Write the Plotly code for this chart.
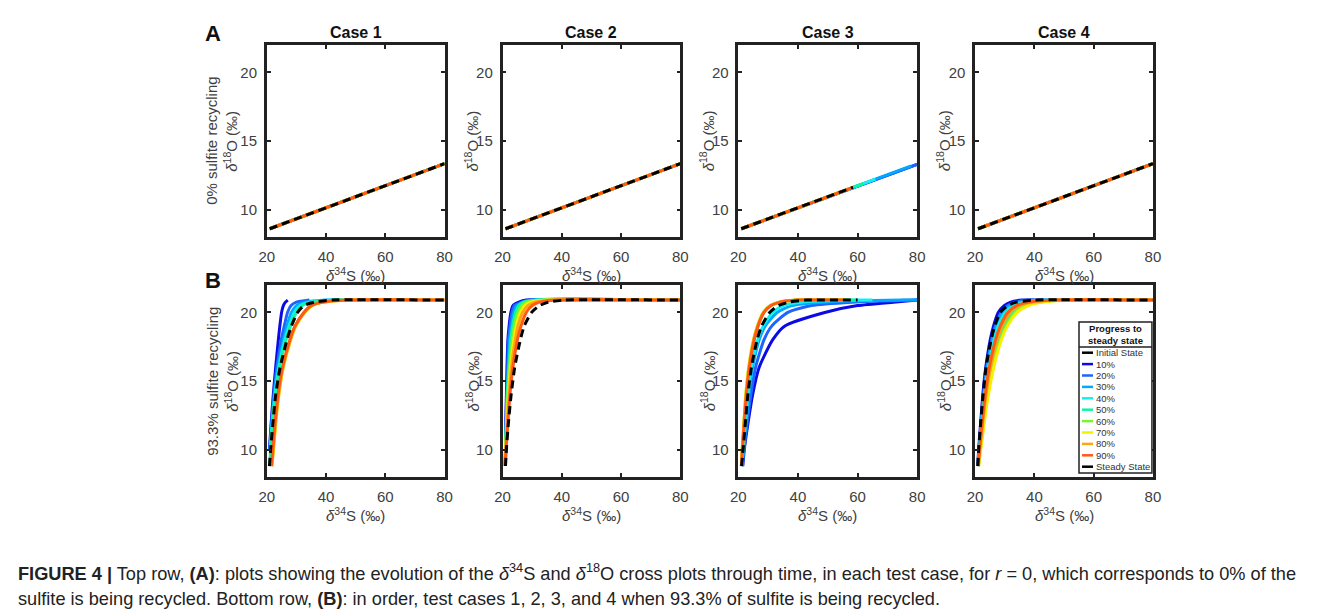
import plotly.graph_objects as go

# measured page placement: the figure lands ~15px in and is drawn ~1.1% narrower,
# and 8px down; positions below are written in target-picture pixels
W, H = 1342, 602
X_OFF, X_SCALE, Y_OFF = 15, 0.989, 8

# --- data -------------------------------------------------------------------
CASES = ["Case 1", "Case 2", "Case 3", "Case 4"]
ROW_LABELS = ["0% sulfite recycling", "93.3% sulfite recycling"]
SERIES = ["10%", "20%", "30%", "40%", "50%", "60%", "70%", "80%", "90%", "Steady State"]
COLORS = ["#0a0ae6", "#1e64ff", "#00a8ff", "#10f0f0", "#10f5a0",
          "#78f532", "#f5f000", "#ffa514", "#ff5a14", "#000000"]
LEGEND_NAMES = ["Initial State"] + SERIES

# top row: straight runs from a common start to a per-series end point
TOP_X0, TOP_Y0 = 21.0, 8.6
TOP_END_X = [
    [80] * 10,
    [80] * 10,
    [80, 80, 78, 66, 62, 58.5, 58.5, 58.5, 58.5, 58.5],
    [80] * 10,
]
TOP_END_Y = [
    [13.35] * 10,
    [13.35] * 10,
    [13.3, 13.3, 13.19, 12.22, 11.9, 11.62, 11.62, 11.62, 11.62, 11.62],
    [13.35] * 10,
]

# bottom row: delta34S reached by each series at these delta18O levels
Y_GRID = [8.8, 10, 12, 14, 16, 18, 19, 20, 20.5, 20.75, 20.9]
B_CASE1 = [
    [None, 20.9, 21.5, 22.2, 23.0, 23.9, 24.4, 25.0, 25.6, 26.3, 27.1],
    [None, 21.0, 21.6, 22.4, 23.4, 24.9, 25.9, 27.0, 28.2, 30.0, 34.4],
    [None, 21.1, 21.8, 22.6, 23.8, 25.6, 26.8, 28.3, 30.0, 33.0, 40.0],
    [None, 21.2, 21.9, 22.8, 24.1, 26.1, 27.5, 29.3, 31.2, 34.5, 42.0],
    [21.0, 21.3, 22.0, 22.9, 24.3, 26.5, 28.0, 30.0, 32.0, 35.5, 43.0],
    [21.6, 22.1, 22.9, 23.9, 25.4, 27.9, 29.6, 32.6, 35.1, 39.0, 47.0],
    [21.7, 22.3, 23.1, 24.1, 25.6, 28.1, 29.8, 32.8, 35.3, 39.5, 48.0],
    [21.7, 22.2, 23.0, 24.0, 25.5, 28.0, 29.7, 32.7, 35.2, 39.2, 47.5],
    [21.6, 22.0, 22.8, 23.8, 25.3, 27.8, 29.5, 32.5, 35.0, 39.0, 47.0],
    [20.9, 21.3, 22.1, 23.0, 24.5, 26.8, 28.3, 30.4, 32.5, 36.0, 42.0],
]
B_CASE2 = [
    [20.9, 21.0, 21.1, 21.3, 21.5, 21.8, 22.2, 22.8, 23.5, 25.5, 28.0],
    [20.9, 21.0, 21.2, 21.4, 21.7, 22.0, 22.5, 23.2, 24.0, 26.5, 29.0],
    [20.9, 21.1, 21.3, 21.6, 22.0, 22.4, 23.0, 23.8, 24.8, 27.5, 30.0],
    [20.9, 21.2, 21.5, 21.9, 22.4, 22.9, 23.7, 24.6, 25.8, 29.0, 31.5],
    [20.9, 21.0, 21.3, 21.6, 22.1, 22.8, 23.4, 24.4, 25.5, 27.0, 33.0],
    [20.9, 21.0, 21.4, 21.8, 22.4, 23.3, 24.0, 25.2, 26.5, 28.2, 34.0],
    [20.9, 21.1, 21.5, 22.0, 22.7, 23.8, 24.6, 26.0, 27.5, 29.5, 35.0],
    [20.9, 21.1, 21.6, 22.2, 23.0, 24.3, 25.2, 26.8, 28.5, 31.0, 36.0],
    [20.9, 21.2, 21.8, 22.5, 23.5, 25.0, 26.2, 28.0, 30.0, 32.5, 38.0],
    [21.0, 21.3, 22.0, 22.9, 24.1, 26.0, 27.3, 29.8, 32.5, 35.5, 41.0],
]
B_CASE3 = [
    [21.5, 22.0, 23.3, 24.8, 27.0, 31.5, 35.5, 49.0, 60.0, 72.0, 80.0],
    [21.3, 21.9, 23.0, 24.2, 25.8, 28.6, 31.2, 36.6, 44.5, 58.0, 80.0],
    [21.2, 21.7, 22.6, 23.5, 24.8, 27.0, 29.0, 33.0, 38.0, 48.0, 75.0],
    [21.1, 21.6, 22.4, 23.2, 24.4, 26.5, 28.3, 31.5, 35.0, 41.0, 60.0],
    [21.1, 21.4, 22.0, 22.7, 23.7, 25.3, 26.6, 28.6, 31.0, 34.0, 40.0],
    [21.0, 21.3, 21.9, 22.5, 23.5, 25.1, 26.4, 28.4, 30.7, 33.7, 39.5],
    [21.0, 21.3, 21.9, 22.5, 23.5, 25.1, 26.4, 28.4, 30.7, 33.7, 39.5],
    [21.0, 21.3, 21.9, 22.6, 23.6, 25.2, 26.5, 28.5, 30.8, 33.8, 39.8],
    [21.1, 21.4, 22.0, 22.7, 23.7, 25.3, 26.6, 28.6, 31.0, 34.0, 40.0],
    [21.1, 21.6, 22.4, 23.2, 24.4, 26.3, 27.8, 30.5, 33.5, 37.0, 43.0],
]
B_CASE4 = [
    [20.9, 21.2, 21.9, 22.6, 23.6, 25.1, 26.2, 27.8, 29.8, 32.0, 36.0],
    [21.0, 21.3, 22.0, 22.8, 23.9, 25.6, 26.8, 28.8, 31.0, 33.5, 38.0],
    [21.0, 21.4, 22.1, 23.0, 24.1, 25.9, 27.2, 29.3, 31.8, 35.0, 42.0],
    [21.0, 21.5, 22.3, 23.2, 24.5, 26.4, 27.8, 30.2, 33.0, 36.5, 45.0],
    [21.1, 21.7, 22.8, 24.0, 25.6, 28.0, 29.8, 32.7, 36.0, 41.0, 50.0],
    [21.2, 21.8, 23.0, 24.3, 26.0, 28.5, 30.4, 33.5, 37.0, 42.0, 51.0],
    [21.2, 21.9, 23.1, 24.5, 26.3, 28.9, 30.9, 34.2, 38.0, 43.0, 52.0],
    [21.1, 21.6, 22.6, 23.7, 25.2, 27.4, 29.1, 31.8, 35.0, 39.5, 48.0],
    [21.0, 21.5, 22.4, 23.4, 24.8, 26.9, 28.5, 31.0, 34.0, 38.0, 46.0],
    [20.9, 21.2, 21.9, 22.7, 23.7, 25.4, 26.6, 28.5, 31.0, 34.0, 40.0],
]
BOTTOM = [B_CASE1, B_CASE2, B_CASE3, B_CASE4]
# where each series' plateau stops along delta34S
B_END_X = [
    [27.1, 34.4, 45, 55, 65, 80, 80, 80, 80, 80],
    [80] * 10,
    [80, 80, 80, 65, 60, 57, 56, 56, 55, 60],
    [40, 45, 50, 60, 80, 80, 80, 80, 80, 80],
]
PLATEAU = 20.9

X_TICKS = [20, 40, 60, 80]
Y_TICKS = [10, 15, 20]

# --- layout geometry (target pixels) -------------------------------------------
COL_PX = [(266, 444), (502, 680), (738, 917), (975, 1153)]
ROW_PX = [(45, 237), (285, 477)]
YLAB_PX = [230, 471, 707, 944]
FONT = "Liberation Sans, Arial, sans-serif"
TXT = "#404040"


def px(x):
    return min(max((x - X_OFF) / X_SCALE / W, 0.0), 1.0)


def py(y):
    return min(max(1 - (y - Y_OFF) / H, 0.0), 1.0)


def note(text, x, y, size=15, color=TXT, **kw):
    return dict(text=text, x=px(x), y=py(y), xref="paper", yref="paper",
                xanchor=kw.pop("xanchor", "center"), yanchor="middle", showarrow=False,
                font=dict(family=FONT, size=size, color=color), **kw)


D18O = "<i>δ</i><sup>18</sup>O (‰)"
D34S = "<i>δ</i><sup>34</sup>S (‰)"

fig = go.Figure()
layout = {}
annotations = []
shapes = []

for r in range(2):
    for c in range(4):
        n = r * 4 + c + 1
        sfx = "" if n == 1 else str(n)
        xa, ya = "x" + sfx, "y" + sfx
        axis = dict(showline=True, linewidth=2.5, linecolor="#222", mirror="allticks",
                    ticks="inside", ticklen=4, tickwidth=1.5, tickcolor="#222",
                    showgrid=False, zeroline=False,
                    tickfont=dict(family=FONT, size=15, color=TXT), ticklabelstandoff=4)
        layout["xaxis" + sfx] = dict(axis, domain=[px(COL_PX[c][0]), px(COL_PX[c][1])],
                                     range=[20, 80], tickvals=X_TICKS, anchor=ya)
        layout["yaxis" + sfx] = dict(axis, domain=[py(ROW_PX[r][1]), py(ROW_PX[r][0])],
                                     range=[8, 22], tickvals=Y_TICKS, anchor=xa)

        for s, name in enumerate(SERIES):
            if r == 0:
                xs = [TOP_X0, TOP_END_X[c][s]]
                ys = [TOP_Y0, TOP_END_Y[c][s]]
            else:
                pts = [(x, y) for x, y in zip(BOTTOM[c][s], Y_GRID) if x is not None]
                xs = [p[0] for p in pts]
                ys = [p[1] for p in pts]
                if B_END_X[c][s] > xs[-1]:
                    xs.append(B_END_X[c][s])
                    ys.append(PLATEAU)
            dashed = name == "Steady State"
            fig.add_trace(go.Scatter(
                x=xs, y=ys, mode="lines", name=name, xaxis=xa, yaxis=ya,
                line=dict(color=COLORS[s], width=3,
                          dash="8px,5px" if dashed else "solid", shape="spline",
                          smoothing=0.6),
                showlegend=False,
            ))

        # axis titles
        xc = (COL_PX[c][0] + COL_PX[c][1]) / 2
        ym = (ROW_PX[r][0] + ROW_PX[r][1]) / 2
        annotations.append(note(D34S, xc, ROW_PX[r][1] + 37))
        annotations.append(note(D18O, YLAB_PX[c], ym, textangle=-90))
        if c == 0:
            annotations.append(note(ROW_LABELS[r], 211, ym, textangle=-90))
        if r == 0:
            annotations.append(note(f"<b>{CASES[c]}</b>", xc, 32, size=16, color="#111"))

# panel letters
for letter, ypx in [("A", 34), ("B", 280)]:
    annotations.append(note(f"<b>{letter}</b>", 212, ypx, size=22, color="#111"))

# hand-drawn legend in the Case 4 / 93.3% panel
LX0, LX1, LY0, LYD, LY1 = 1079, 1152, 322, 347, 473
shapes.append(dict(type="rect", xref="paper", yref="paper", x0=px(LX0), x1=px(LX1),
                   y0=py(LY1), y1=py(LY0), line=dict(color="#222", width=1.5),
                   fillcolor="white", layer="above"))
shapes.append(dict(type="line", xref="paper", yref="paper", x0=px(LX0), x1=px(LX1),
                   y0=py(LYD), y1=py(LYD), line=dict(color="#222", width=1.5), layer="above"))
annotations.append(note("<b>Progress to<br>steady state</b>", (LX0 + LX1) / 2,
                        (LY0 + LYD) / 2, size=9.5, color="#111"))
leg_colors = ["#000000"] + COLORS
for i, name in enumerate(LEGEND_NAMES):
    yy = 352.7 + i * 11.4
    shapes.append(dict(type="line", xref="paper", yref="paper", x0=px(1082), x1=px(1093),
                       y0=py(yy), y1=py(yy), line=dict(color=leg_colors[i], width=2.5),
                       layer="above"))
    annotations.append(note(name, 1094, yy, size=9.5, color="#333", xanchor="left"))

# caption
CAPTION = [
    "<b>FIGURE 4 |</b> Top row, <b>(A)</b>: plots showing the evolution of the "
    "<i>δ</i><sup>34</sup>S and <i>δ</i><sup>18</sup>O cross plots through time, in each "
    "test case, for <i>r</i> = 0, which corresponds to 0% of the",
    "sulfite is being recycled. Bottom row, <b>(B)</b>: in order, test cases 1, 2, 3, "
    "and 4 when 93.3% of sulfite is being recycled.",
]
for i, line in enumerate(CAPTION):
    annotations.append(note(line, 14, 572 + i * 27, size=18.2, color="#222",
                            xanchor="left"))

# right edge of the page frame
shapes.append(dict(type="line", xref="paper", yref="paper", x0=px(1336), x1=px(1336),
                   y0=0, y1=1, line=dict(color="#b0b0b0", width=1)))

fig.update_layout(
    **layout,
    width=W, height=H,
    margin=dict(l=0, r=0, t=0, b=0),
    paper_bgcolor="white", plot_bgcolor="white",
    annotations=annotations, shapes=shapes,
    showlegend=False,
)

fig.write_html("out.html")
